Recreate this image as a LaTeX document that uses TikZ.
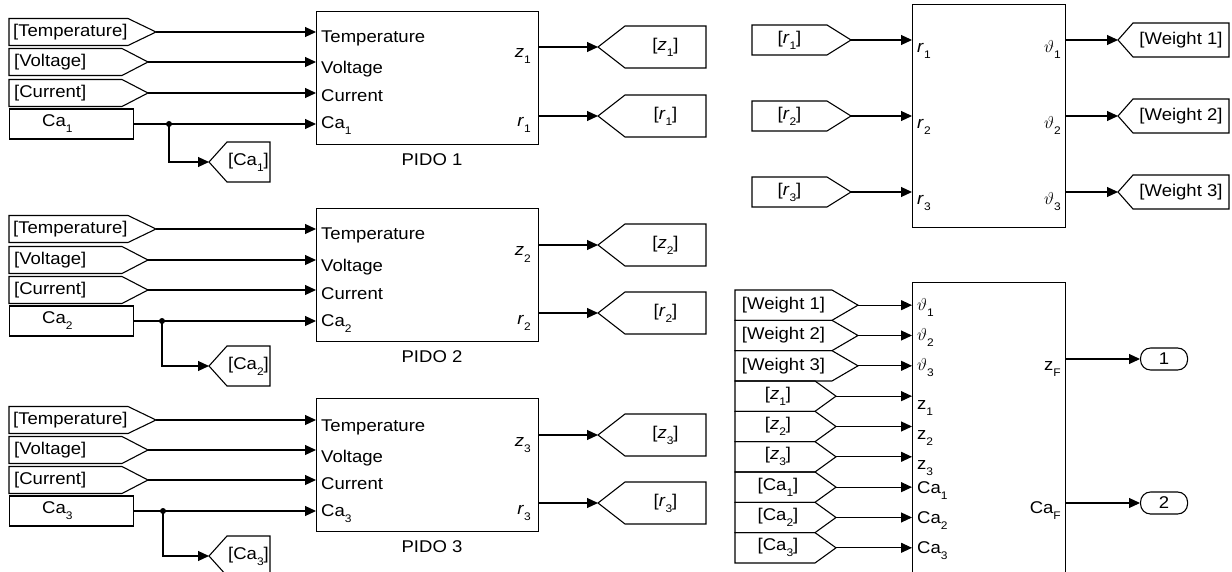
\documentclass[tikz,border=0pt]{standalone}
\usepackage{fontspec}
\setmainfont{Liberation Sans}[FakeStretch=1.09]
\usetikzlibrary{arrows.meta,calc}
\newcommand\sbs[1]{\raisebox{-6pt}{\fontsize{11}{11}\selectfont #1}}
\newcommand\fs{\fontsize{17}{20}\selectfont}
\newcommand\vth{{\fontsize{19}{20}\selectfont$\vartheta$}}
% from tag: name, xl, xs, xt, ymid, h, text, anchor, textx
\newcommand\fromtag[9]{%
  \draw[tag] (#2,{#5-#6/2}) -- (#3,{#5-#6/2}) -- (#4,#5) -- (#3,{#5+#6/2}) -- (#2,{#5+#6/2}) -- cycle;
  \coordinate (#1) at (#4,#5);
  \node[lbl,anchor=#8] (#1t) at (#9,#5) {#7};
}
% goto tag: name, xt, xs, xr, ymid, h, text
\newcommand\gototag[7]{%
  \draw[tag] (#2,#5) -- (#3,{#5-#6/2}) -- (#4,{#5-#6/2}) -- (#4,{#5+#6/2}) -- (#3,{#5+#6/2}) -- cycle;
  \coordinate (#1) at (#2,#5);
  \node[lbl] (#1t) at ({(#3+#4)/2},#5) {#7};
}
\begin{document}
\begin{tikzpicture}[x=1pt,y=-1pt,
  arr/.style={line width=1.1pt,-{Triangle[length=11pt,width=10pt]}},
  tag/.style={line width=1.1pt,line join=miter},
  lbl/.style={inner sep=0pt,font=\fs},
  blk/.style={draw,line width=1.1pt,inner sep=0pt,anchor=north west},
  jdot/.style={circle,fill,inner sep=0pt,minimum size=6pt},
  outp/.style={draw,line width=1.1pt,rounded corners=10pt,minimum width=47pt,minimum height=22pt,inner sep=0pt,anchor=west,font=\fs}]
\useasboundingbox (0,0) rectangle (1232,572);
\clip (0,0) rectangle (1232,572);

% ---------- PIDO blocks ----------
\foreach \i/\T/\ya/\yb/\yc/\yd/\jx/\yg/\yz/\yr in {1/11/32/62/93/124/169/162/47/116,
  2/208/229/260/290/321/162/366/245/313, 3/398/420/450/480/511/163/556/435/503}{
  \node[blk,minimum width=222pt,minimum height=133pt] (p\i) at (316,\T) {};
  \node[lbl] (pn\i) at (432,{\T+149}) {PIDO \i};
  \fromtag{te\i}{9}{128}{156}{\ya}{27}{[Temperature]}{west}{13}
  \fromtag{vo\i}{9}{122}{148}{\yb}{27}{[Voltage]}{west}{14}
  \fromtag{cu\i}{9}{122}{148}{\yc}{27}{[Current]}{west}{14}
  \node[draw,line width=1.1pt,minimum width=124pt,minimum height=30pt,inner sep=0pt,anchor=west] (ca\i) at (9,\yd) {};
  \node[lbl,anchor=west] (cat\i) at (42,\yd) {Ca\sbs{\i}};
  \coordinate (j\i) at (\jx,\yd);
  \gototag{gca\i}{209}{227}{270}{\yg}{40}{[Ca\sbs{\i}]}
  \gototag{gz\i}{598}{625}{706}{\yz}{42}{[\textit{z}\sbs{\i}]}
  \gototag{gr\i}{598}{625}{706}{\yr}{42}{[\textit{r}\sbs{\i}]}
  \draw[arr] (te\i) -- (te\i -| p\i.west);
  \draw[arr] (vo\i) -- (vo\i -| p\i.west);
  \draw[arr] (cu\i) -- (cu\i -| p\i.west);
  \draw[arr] (ca\i.east) -- (ca\i.east -| p\i.west);
  \node[jdot] (jd\i) at (j\i) {};
  \draw[arr] (j\i) |- (gca\i);
  \draw[arr] (p\i.east |- gz\i) -- (gz\i);
  \draw[arr] (p\i.east |- gr\i) -- (gr\i);
  \node[lbl,anchor=base west] (la\i) at (321,{\ya+11}) {Temperature};
  \node[lbl,anchor=base west] (lb\i) at (321,{\yb+12}) {Voltage};
  \node[lbl,anchor=base west] (lc\i) at (321,{\yc+9}) {Current};
  \node[lbl,anchor=base west] (ld\i) at (321,{\yd+5}) {Ca\sbs{\i}};
  \node[lbl,anchor=base east] (lz\i) at (531,{\yz+11}) {\textit{z}\sbs{\i}};
  \node[lbl,anchor=base east] (lr\i) at (531,{\yr+11}) {\textit{r}\sbs{\i}};
}

% ---------- weight block ----------
\node[blk,minimum width=153pt,minimum height=223pt] (w) at (912,4) {};
\foreach \k/\y in {1/40,2/116,3/192}{
  \fromtag{rr\k}{752}{827}{851}{\y}{30}{[\textit{r}\sbs{\k}]}{center}{789.5}
  \gototag{wg\k}{1118}{1133}{1229}{\y}{34}{[Weight \k]}
  \draw[arr] (rr\k) -- (rr\k -| w.west);
  \draw[arr] (w.east |- wg\k) -- (wg\k);
  \node[lbl,anchor=base west] (wl\k) at (917,{\y+13}) {\textit{r}\sbs{\k}};
  \node[lbl,anchor=base east] (wr\k) at (1061,{\y+13}) {\vth\sbs{\k}};
}

% ---------- fusion block ----------
\node[blk,minimum width=153pt,minimum height=330pt] (f) at (912,282) {};
\foreach \k in {1,2,3}{
  \pgfmathsetmacro\y{290+30.33*(\k-1)+15.17}
  \fromtag{fw\k}{735}{832}{858}{\y}{30.33}{[Weight \k]}{center}{783.5}
  \draw[arr] (fw\k) -- (fw\k -| f.west);
  \node[lbl,anchor=base west] (fwl\k) at (917,{\y+5}) {\vth\sbs{\k}};
}
\foreach \k in {1,2,3}{
  \pgfmathsetmacro\y{290+30.33*(\k+2)+15.17}
  \fromtag{fz\k}{735}{815}{836}{\y}{30.33}{[\textit{z}\sbs{\k}]}{center}{778}
  \draw[arr] (fz\k) -- (fz\k -| f.west);
  \node[lbl,anchor=base west] (fzl\k) at (917,{\y+13}) {z\sbs{\k}};
}
\foreach \k in {1,2,3}{
  \pgfmathsetmacro\y{290+30.33*(\k+5)+15.17}
  \fromtag{fc\k}{735}{815}{836}{\y}{30.33}{[Ca\sbs{\k}]}{center}{778}
  \draw[arr] (fc\k) -- (fc\k -| f.west);
  \node[lbl,anchor=base west] (fcl\k) at (917,{\y+6}) {Ca\sbs{\k}};
}
\node[outp] (o1) at (1140,359) {1};
\node[outp] (o2) at (1140,503) {2};
\draw[arr] (f.east |- o1.west) -- (o1.west);
\draw[arr] (f.east |- o2.west) -- (o2.west);
\node[lbl,anchor=base east] (zf) at (1061,370) {z\sbs{F}};
\node[lbl,anchor=base east] (caf) at (1061,513) {Ca\sbs{F}};
\end{tikzpicture}
\end{document}
